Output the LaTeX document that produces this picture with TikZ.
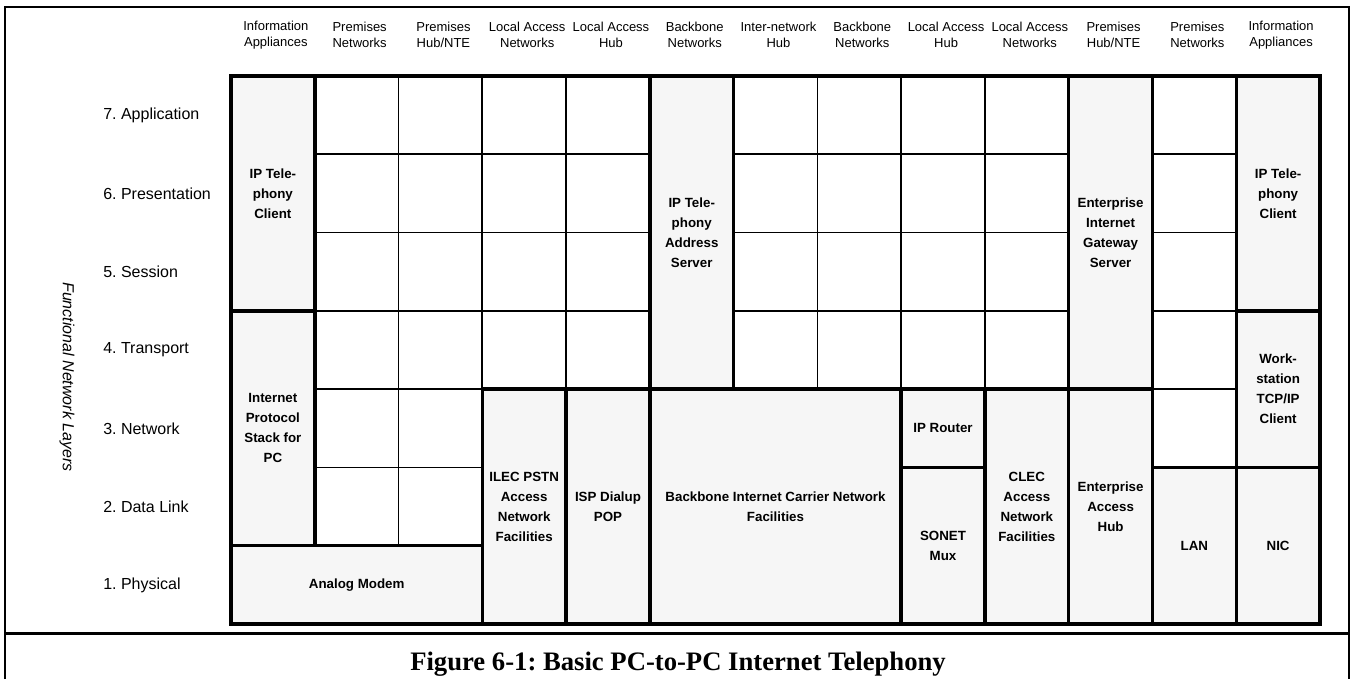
\documentclass[tikz,border=0pt]{standalone}
\usepackage{fontspec}
\setmainfont{Liberation Sans}
\newfontfamily\captionserif{Liberation Serif}
\frenchspacing
\definecolor{boxgray}{RGB}{246,246,246}
% column and row grid: 13 columns, 7 layers
\newcommand\gx[1]{231+83.77*(#1)}
\newcommand\gy[1]{76+78.286*(#1)}
% shaded box spanning columns #2..#4 and rows #3..#5, with label #6
\newcommand\layerbox[6]{%
  \draw[boxline] ({\gx{#2}},{\gy{#3}}) rectangle ({\gx{#4}},{\gy{#5}});
  \node[boxtext] (#1) at ({\gx{(#2+#4)/2}},{\gy{(#3+#5)/2}}) {#6};
}
\begin{document}
\begin{tikzpicture}[x=0.75pt,y=-0.75pt,
  cellline/.style={black,line width=1.3pt},
  boxline/.style={black,line width=2.6pt,fill=boxgray},
  boxtext/.style={align=center,font=\fontsize{10}{15}\selectfont\bfseries,inner sep=0pt},
  headtext/.style={align=center,font=\fontsize{9.75}{12}\selectfont,inner sep=0pt},
  layertext/.style={anchor=west,font=\fontsize{12}{14}\selectfont,inner sep=0pt},
]
\useasboundingbox (0,0) rectangle (1351,679);

% outer frame and caption separator
\draw[line width=1.6pt] (5,679) -- (5,7) -- (1349,7) -- (1349,679);
\draw[line width=1.8pt] (5,633.5) -- (1349,633.5);

% column headings
\foreach \t [count=\i from 0] in {
  Information\\Appliances, Premises\\Networks, Premises\\Hub/NTE,
  Local Access\\Networks, Local Access\\Hub, Backbone\\Networks,
  Inter-network\\Hub, Backbone\\Networks, Local Access\\Hub,
  Local Access\\Networks, Premises\\Hub/NTE, Premises\\Networks,
  Information\\Appliances}
  \node[headtext] (head\i) at ({\gx{\i+0.5}+3},35) {\t};

% layer names
\foreach \t [count=\i from 0] in {7. Application, 6. Presentation, 5. Session,
  4. Transport, 3. Network, 2. Data Link, 1. Physical}
  \node[layertext] (layer\i) at (103,{\gy{\i+0.5}}) {\t};

\node[rotate=-90,font=\itshape\fontsize{12}{14}\selectfont] (axis) at (67,377)
  {Functional Network Layers};

% empty cells
\foreach \c in {1,2} \foreach \r in {0,...,5}
  \draw[cellline] ({\gx{\c}},{\gy{\r}}) rectangle ++(83.77,78.286);
\foreach \c in {3,4,6,7,8,9} \foreach \r in {0,...,3}
  \draw[cellline] ({\gx{\c}},{\gy{\r}}) rectangle ++(83.77,78.286);
\foreach \r in {0,...,4}
  \draw[cellline] ({\gx{11}},{\gy{\r}}) rectangle ++(83.77,78.286);

% functional components
\layerbox{clientA}{0}{0}{1}{3}{IP Tele-\\phony\\Client}
\layerbox{stackA}{0}{3}{1}{6}{Internet\\Protocol\\Stack for\\PC}
\layerbox{modem}{0}{6}{3}{7}{Analog Modem}
\layerbox{ilec}{3}{4}{4}{7}{ILEC PSTN\\Access\\Network\\Facilities}
\layerbox{isp}{4}{4}{5}{7}{ISP Dialup\\POP}
\layerbox{addr}{5}{0}{6}{4}{IP Tele-\\phony\\Address\\Server}
\layerbox{carrier}{5}{4}{8}{7}{Backbone Internet Carrier Network\\Facilities}
\layerbox{router}{8}{4}{9}{5}{IP Router}
\layerbox{sonet}{8}{5}{9}{7}{SONET\\Mux}
\layerbox{clec}{9}{4}{10}{7}{CLEC\\Access\\Network\\Facilities}
\layerbox{gateway}{10}{0}{11}{4}{Enterprise\\Internet\\Gateway\\Server}
\layerbox{ehub}{10}{4}{11}{7}{Enterprise\\Access\\Hub}
\layerbox{lan}{11}{5}{12}{7}{LAN}
\layerbox{clientB}{12}{0}{13}{3}{IP Tele-\\phony\\Client}
\layerbox{stackB}{12}{3}{13}{5}{Work-\\station\\TCP/IP\\Client}
\layerbox{nic}{12}{5}{13}{7}{NIC}

% grid outline
\draw[line width=2.6pt] ({\gx{0}},{\gy{0}}) rectangle ({\gx{13}},{\gy{7}});

% caption
\node[anchor=base,font=\captionserif\fontsize{20}{24}\selectfont\bfseries] (caption)
  at (678,670) {Figure 6-1: Basic PC-to-PC Internet Telephony};
\end{tikzpicture}
\end{document}
